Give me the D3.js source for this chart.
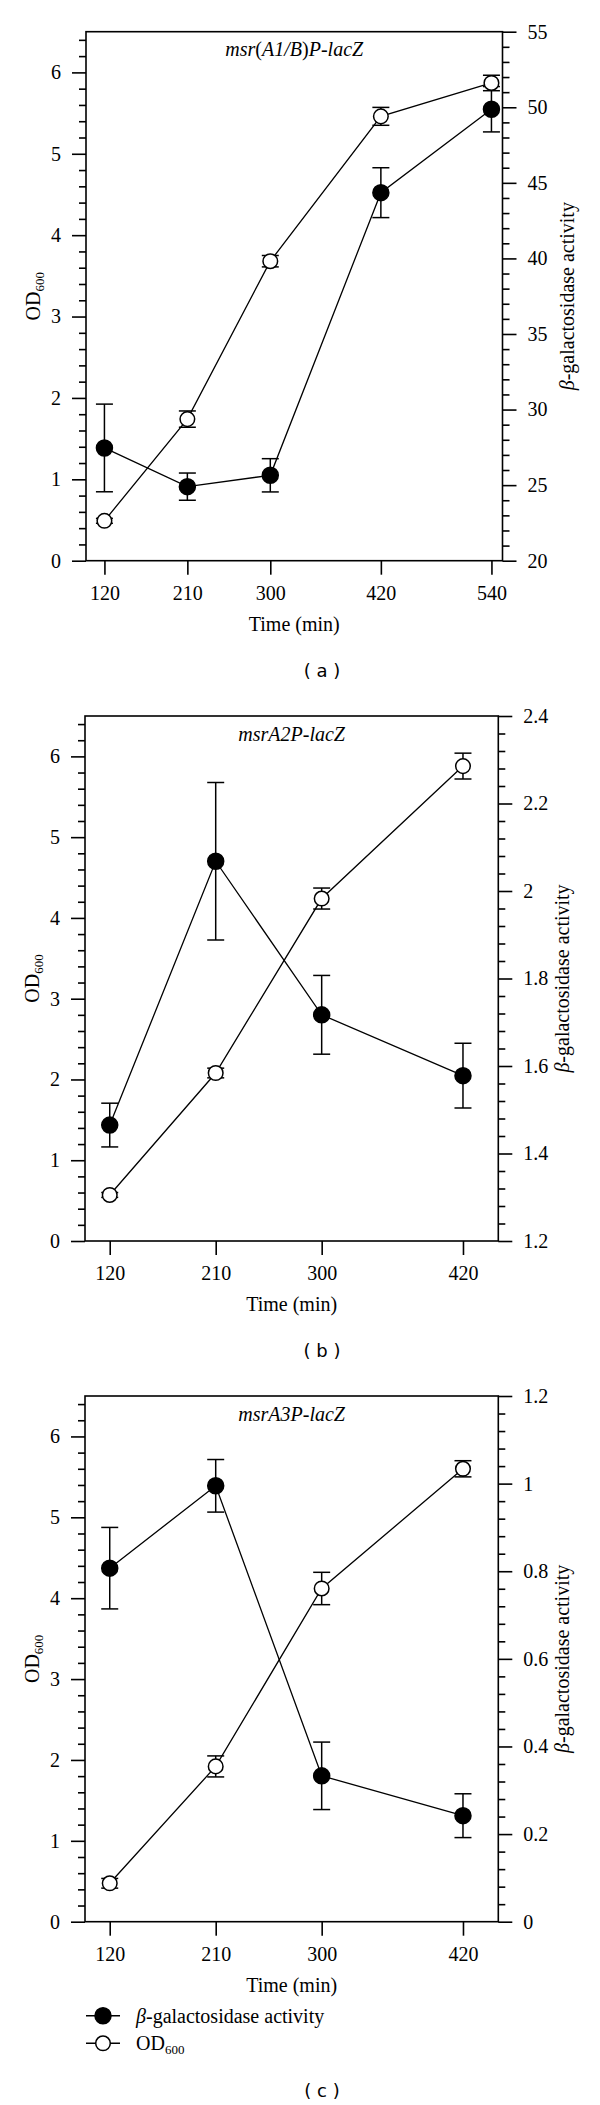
<!DOCTYPE html>
<html>
<head>
<meta charset="utf-8">
<script src="https://cdn.jsdelivr.net/npm/d3@7/dist/d3.min.js"></script>
<style>
  body { margin: 0; background: #fff; }
  svg { display: block; }
  svg text { font-family: 'Liberation Serif', 'Times New Roman', Times, serif; fill: #000; }
  .axis text { font-size: 20px; }
  .axis line { stroke: #000; stroke-width: 1.6px; }
  svg text.panel-id { font-family: 'DejaVu Sans', sans-serif; font-size: 18px; }
</style>
</head>
<body>
<div id="chart"></div>
<script>
var w = 600,
  h = 2105;

// time points (min)
var timesA = [120, 210, 300, 420, 540];
var timesBC = [120, 210, 300, 420];

// panel (a) msr(A1/B)P-lacZ
var odA = [0.49, 1.74, 3.68, 5.46, 5.87];
var odErrA = [0.03, 0.1, 0.07, 0.11, 0.095];
var galA = [27.46, 24.9, 25.65, 44.35, 49.87];
var galErrA = [2.9, 0.9, 1.1, 1.65, 1.5];

// panel (b) msrA2P-lacZ
var odB = [0.57, 2.08, 4.24, 5.88];
var odErrB = [0.03, 0.06, 0.13, 0.16];
var galB = [1.465, 2.068, 1.717, 1.578];
var galErrB = [0.05, 0.18, 0.09, 0.074];

// panel (c) msrA3P-lacZ
var odC = [0.475, 1.92, 4.12, 5.60];
var odErrC = [0.06, 0.13, 0.2, 0.1];
var galC = [0.807, 0.995, 0.333, 0.242];
var galErrC = [0.093, 0.06, 0.077, 0.05];

// tick labels
var odTicks = [0, 1, 2, 3, 4, 5, 6];
var galTicksA = [20, 25, 30, 35, 40, 45, 50, 55];
var galTicksB = [1.2, 1.4, 1.6, 1.8, 2, 2.2, 2.4];
var galTicksC = [0, 0.2, 0.4, 0.6, 0.8, 1, 1.2];

var serif = "'Liberation Serif', 'Times New Roman', Times, serif";

var svg = d3.select('#chart').append('svg')
  .attr('width', w)
  .attr('height', h)
  .attr('font-family', serif);

// d3 axis puts sans-serif 10px on its group, drop that
function axisG(g, tr, axis) {
  var a = g.append('g').attr('class', 'axis').attr('transform', tr).call(axis);
  a.attr('font-family', null).attr('font-size', null);
  a.select('.domain').remove();
  a.selectAll('text').attr('font-family', serif).attr('font-size', 20);
  return a;
}

function drawPanel(p) {
  var x = d3.scaleLinear().domain(p.xDomain).range([p.left, p.right]);
  var yL = d3.scaleLinear().domain([0, 6.5]).range([p.bottom, p.top]);
  var yR = d3.scaleLinear().domain(p.galDomain).range([p.bottom, p.top]);
  var g = svg.append('g');

  // left axis: minor every 0.2, major every 1
  var odMinor = d3.range(0, 6.5, 0.2).filter(function(v) { return Math.abs(v - Math.round(v)) > 0.01; });
  axisG(g, 'translate(' + p.left + ',0)',
    d3.axisLeft(yL).tickValues(odMinor).tickSize(7).tickSizeOuter(0).tickFormat(''));
  axisG(g, 'translate(' + p.left + ',0)',
    d3.axisLeft(yL).tickValues(odTicks).tickSize(14).tickPadding(11).tickSizeOuter(0).tickFormat(d3.format('d')));

  // right axis
  var galMinor = d3.range(p.galDomain[0], p.galDomain[1] + p.galMinor / 2, p.galMinor)
    .filter(function(v) {
      var r = (v - p.galDomain[0]) / p.galMajor;
      return Math.abs(r - Math.round(r)) > 0.01;
    });
  axisG(g, 'translate(' + p.right + ',0)',
    d3.axisRight(yR).tickValues(galMinor).tickSize(7).tickSizeOuter(0).tickFormat(''));
  axisG(g, 'translate(' + p.right + ',0)',
    d3.axisRight(yR).tickValues(p.galTicks).tickSize(14).tickPadding(11).tickSizeOuter(0).tickFormat(d3.format('~g')));

  // bottom axis
  axisG(g, 'translate(0,' + p.bottom + ')',
    d3.axisBottom(x).tickValues(p.times).tickSize(14).tickPadding(11).tickSizeOuter(0).tickFormat(d3.format('d')));

  // frame
  g.append('rect')
    .attr('x', p.left).attr('y', p.top)
    .attr('width', p.right - p.left).attr('height', p.bottom - p.top)
    .attr('fill', 'none').attr('stroke', '#000').attr('stroke-width', 1.6);

  // title
  var t = g.append('text')
    .attr('x', (p.left + p.right) / 2).attr('y', p.top + 24.5)
    .attr('text-anchor', 'middle').attr('font-size', 20);
  p.title.forEach(function(s) {
    t.append('tspan').text(s[0]).attr('font-style', s[1] ? 'italic' : 'normal');
  });

  // axis titles
  var od = g.append('text')
    .attr('transform', 'translate(' + (p.left - 53) + ',' + ((p.top + p.bottom) / 2) + ') rotate(-90)')
    .attr('text-anchor', 'middle').attr('dy', '0.35em').attr('font-size', 20);
  od.append('tspan').text('OD');
  od.append('tspan').text('600').attr('font-size', 13).attr('dy', 4);

  var gl = g.append('text')
    .attr('transform', 'translate(' + (p.right + 64) + ',' + ((p.top + p.bottom) / 2) + ') rotate(-90)')
    .attr('text-anchor', 'middle').attr('dy', '0.35em').attr('font-size', 20);
  gl.append('tspan').text('\u03b2').attr('font-style', 'italic');
  gl.append('tspan').text('-galactosidase activity');

  g.append('text')
    .attr('x', (p.left + p.right) / 2).attr('y', p.bottom + 70)
    .attr('text-anchor', 'middle').attr('font-size', 20)
    .text('Time (min)');

  g.append('text').attr('class', 'panel-id')
    .attr('x', 322).attr('y', p.idY)
    .attr('text-anchor', 'middle')
    .text('( ' + p.id + ' )');

  // series: beta-gal (filled, right axis) and OD600 (open, left axis)
  var series = [
    { vals: p.gal, errs: p.galErr, y: yR, fill: '#000' },
    { vals: p.od, errs: p.odErr, y: yL, fill: '#fff' }
  ];
  series.forEach(function(s) {
    var line = d3.line()
      .x(function(d, i) { return x(p.times[i]); })
      .y(function(d) { return s.y(d); });
    g.append('path').datum(s.vals)
      .attr('d', line).attr('fill', 'none').attr('stroke', '#000').attr('stroke-width', 1.3);
  });
  series.forEach(function(s) {
    var eb = g.selectAll(null).data(s.vals).enter().append('g');
    eb.append('line')
      .attr('x1', function(d, i) { return x(p.times[i]); })
      .attr('x2', function(d, i) { return x(p.times[i]); })
      .attr('y1', function(d, i) { return s.y(d - s.errs[i]); })
      .attr('y2', function(d, i) { return s.y(d + s.errs[i]); })
      .attr('stroke', '#000').attr('stroke-width', 1.5);
    [-1, 1].forEach(function(sign) {
      eb.append('line')
        .attr('x1', function(d, i) { return x(p.times[i]) - 8.5; })
        .attr('x2', function(d, i) { return x(p.times[i]) + 8.5; })
        .attr('y1', function(d, i) { return s.y(d + sign * s.errs[i]); })
        .attr('y2', function(d, i) { return s.y(d + sign * s.errs[i]); })
        .attr('stroke', '#000').attr('stroke-width', 1.5);
    });
  });
  series.forEach(function(s) {
    g.selectAll(null).data(s.vals).enter().append('circle')
      .attr('cx', function(d, i) { return x(p.times[i]); })
      .attr('cy', function(d) { return s.y(d); })
      .attr('r', s.fill === '#000' ? 8 : 7.3)
      .attr('fill', s.fill).attr('stroke', '#000').attr('stroke-width', 1.5);
  });
}

drawPanel({
  id: 'a', times: timesA, xDomain: [100, 552], left: 86, right: 502.5, top: 31.7, bottom: 560.7,
  od: odA, odErr: odErrA, gal: galA, galErr: galErrA,
  galDomain: [20, 55], galTicks: galTicksA, galMajor: 5, galMinor: 1,
  title: [['msr', true], ['(', false], ['A1/B', true], [')', false], ['P-lacZ', true]],
  idY: 677
});
drawPanel({
  id: 'b', times: timesBC, xDomain: [99, 450], left: 85, right: 498.3, top: 716, bottom: 1241,
  od: odB, odErr: odErrB, gal: galB, galErr: galErrB,
  galDomain: [1.2, 2.4], galTicks: galTicksB, galMajor: 0.2, galMinor: 0.04,
  title: [['msrA2P-lacZ', true]],
  idY: 1357
});
drawPanel({
  id: 'c', times: timesBC, xDomain: [99, 450], left: 85, right: 498.3, top: 1396, bottom: 1921.7,
  od: odC, odErr: odErrC, gal: galC, galErr: galErrC,
  galDomain: [0, 1.2], galTicks: galTicksC, galMajor: 0.2, galMinor: 0.04,
  title: [['msrA3P-lacZ', true]],
  idY: 2097
});

// legend
var legendRows = [
  { label: '-galactosidase activity', beta: true, fill: '#000', y: 2015.7 },
  { label: 'OD', beta: false, fill: '#fff', y: 2043.3 }
];
var lg = svg.append('g');
legendRows.forEach(function(r) {
  lg.append('line').attr('x1', 86).attr('x2', 120).attr('y1', r.y).attr('y2', r.y)
    .attr('stroke', '#000').attr('stroke-width', 1.6);
  lg.append('circle').attr('cx', 103).attr('cy', r.y).attr('r', r.beta ? 8 : 7.3)
    .attr('fill', r.fill).attr('stroke', '#000').attr('stroke-width', 1.5);
  var t = lg.append('text').attr('x', 136).attr('y', r.y).attr('dy', '0.35em').attr('font-size', 20);
  if (r.beta) {
    t.append('tspan').text('\u03b2').attr('font-style', 'italic');
    t.append('tspan').text(r.label);
  } else {
    t.append('tspan').text(r.label);
    t.append('tspan').text('600').attr('font-size', 13).attr('dy', 4);
  }
});
</script>
</body>
</html>
